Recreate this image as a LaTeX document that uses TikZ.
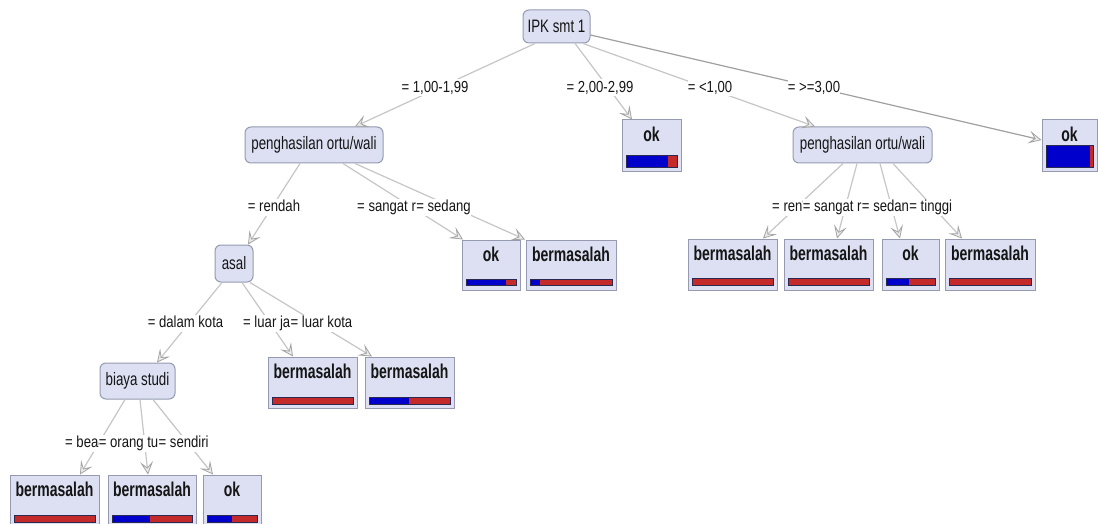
\documentclass[tikz,border=0pt]{standalone}
\usepackage{fontspec}
\setmainfont{Liberation Sans}
\usepackage{graphicx}
\usetikzlibrary{arrows.meta,calc}
\definecolor{nodefill}{HTML}{DCE0F2}
\definecolor{nodeline}{HTML}{959AB0}
\definecolor{edgecol}{HTML}{C6C6C6}
\definecolor{edgedark}{HTML}{A0A0A0}
\definecolor{arrowcol}{HTML}{A4A4A4}
\definecolor{barblue}{HTML}{0000CC}
\definecolor{barred}{HTML}{C42A2A}
\definecolor{barline}{HTML}{2A2A50}
\definecolor{txt}{HTML}{151515}
\newcommand\ntx[1]{\scalebox{0.74}[1]{\fontsize{18}{18}\selectfont #1}}
\newcommand\ltx[1]{\scalebox{0.7}[1]{\fontsize{20}{20}\selectfont\bfseries #1}}
\newcommand\etx[1]{\scalebox{0.82}[1]{\fontsize{16}{16}\selectfont #1}}
\tikzset{
  innernode/.style={draw=nodeline, fill=nodefill, line width=1pt, rounded corners=6pt, inner sep=0pt, text=txt},
  leafbox/.style={draw=nodeline, fill=nodefill, line width=1pt, inner sep=0pt},
  leaftext/.style={inner sep=0pt, text=txt},
  edge/.style={draw=edgecol, line width=1.2pt, -{Stealth[length=13pt,width=13pt,inset=6pt,color=arrowcol,fill=black!8,line width=0.8pt]}},
  elab/.style={fill=white, inner xsep=0pt, inner ysep=1pt, text height=12pt, text depth=3pt, text=txt},
  barlinestyle/.style={draw=barline, line width=0.6pt}
}
\newcommand\leafnode[9]{%
  \node[leafbox, minimum width={(#4-#2)*1pt}, minimum height={(#5-#3)*1pt}] (#1) at ({(#2+#4)/2},{(#3+#5)/2}) {};
  \node[leaftext] (#1t) at ({(#2+#4)/2},{#3+14}) {\ltx{#6}};
  \fill[barred] ({#2+4},#8) rectangle ({#4-4},#9);
  \fill[barblue] ({#2+4},#8) rectangle ({#2+4+(#4-#2-8)*#7},#9);
  \draw[barlinestyle] ({#2+4},#8) rectangle ({#4-4},#9);
}
\begin{document}
\begin{tikzpicture}[x=1pt,y=-1pt]
\useasboundingbox (0,0) rectangle (1098,524);
\fill[white] (0,0) rectangle (1098,524);

% internal nodes
\node[innernode, minimum width=67pt, minimum height=33pt] (ipk) at (556.5,26.5) {\ntx{IPK smt 1}};
\node[innernode, minimum width=138pt, minimum height=36pt] (p1) at (314,145) {\ntx{penghasilan ortu/wali}};
\node[innernode, minimum width=139pt, minimum height=36pt] (p2) at (862.5,145) {\ntx{penghasilan ortu/wali}};
\node[innernode, minimum width=38pt, minimum height=37pt] (asal) at (234,263.5) {\ntx{asal}};
\node[innernode, minimum width=75pt, minimum height=36pt] (biaya) at (137.5,381) {\ntx{biaya studi}};

% leaves
\leafnode{l1}{622}{120}{681}{172}{ok}{0.82}{155}{167}
\leafnode{l2}{1042}{120}{1097}{172}{ok}{0.94}{145}{167}
\leafnode{l3}{462}{240}{520}{290}{ok}{0.8}{279}{285}
\leafnode{l4}{526}{240}{616}{290}{bermasalah}{0.12}{279}{285}
\leafnode{r1}{688}{239}{777}{290}{bermasalah}{0}{278}{285}
\leafnode{r2}{784}{239}{873}{290}{bermasalah}{0}{278}{285}
\leafnode{r3}{882}{239}{939}{290}{ok}{0.47}{278}{285}
\leafnode{r4}{945}{239}{1035}{290}{bermasalah}{0}{278}{285}
\leafnode{m1}{268}{357}{357}{408}{bermasalah}{0}{397}{404}
\leafnode{m2}{365}{357}{454}{408}{bermasalah}{0.49}{397}{404}
\leafnode{b1}{10}{475}{99}{530}{bermasalah}{0}{515}{522}
\leafnode{b2}{108}{475}{196}{530}{bermasalah}{0.47}{515}{522}
\leafnode{b3}{203}{475}{261}{530}{ok}{0.5}{515}{522}

% connectors
\draw[edge] ($(ipk.south)+(-21.5,0)$) -- ($(p1.north)+(41,0)$);
\draw[edge] ($(ipk.south)+(18.5,0)$) -- ($(l1.north)+(-19.5,0)$);
\draw[edge] ($(ipk.south)+(26.5,0)$) -- ($(p2.north)+(-47.5,0)$);
\draw[edge, draw=edgedark] ($(ipk.east)+(0,8.5)$) -- ($(l2.west)+(0,-6)$);
\draw[edge] ($(p1.south)+(-14,0)$) -- ($(asal.north)+(14,0)$);
\draw[edge] ($(p1.south)+(29,0)$) -- ($(l3.north)+(-28,0)$);
\draw[edge] ($(p1.south)+(41,0)$) -- ($(l4.north)+(-46,0)$);
\draw[edge] ($(p2.south)+(-19.5,0)$) -- ($(r1.north)+(30.5,0)$);
\draw[edge] ($(p2.south)+(-5.5,0)$) -- ($(r2.north)+(8.5,0)$);
\draw[edge] ($(p2.south)+(17.5,0)$) -- ($(r3.north)+(-10.5,0)$);
\draw[edge] ($(p2.south)+(30.5,0)$) -- ($(r4.north)+(-28,0)$);
\draw[edge] ($(asal.south)+(-12,0)$) -- ($(biaya.north)+(19.5,0)$);
\draw[edge] ($(asal.south)+(8,0)$) -- ($(m1.north)+(-19.5,0)$);
\draw[edge] ($(asal.south)+(16,0)$) -- ($(m2.north)+(-37.5,0)$);
\draw[edge] ($(biaya.south)+(-12.5,0)$) -- ($(b1.north)+(25.5,0)$);
\draw[edge] ($(biaya.south)+(2.5,0)$) -- ($(b2.north)+(-4,0)$);
\draw[edge] ($(biaya.south)+(15.5,0)$) -- ($(b3.north)+(-19,0)$);

% edge labels
\node[elab] (e1) at (435,88) {\etx{= 1,00-1,99}};
\node[elab] (e2) at (600,88) {\etx{= 2,00-2,99}};
\node[elab] (e3) at (710,88) {\etx{= <1,00}};
\node[elab] (e4) at (814,88) {\etx{= >=3,00}};
\node[elab] (e5) at (274,207) {\etx{= rendah}};
\node[elab, anchor=west] (e6) at (357,207) {\etx{= sangat r}};
\node[elab, anchor=west] (e7) at (e6.east) {\etx{= sedang}};
\node[elab, anchor=west] (e8) at (772,207) {\etx{= ren}};
\node[elab, anchor=west] (e9) at (e8.east) {\etx{= sangat r}};
\node[elab, anchor=west] (e10) at (e9.east) {\etx{= sedan}};
\node[elab, anchor=west] (e11) at (e10.east) {\etx{= tinggi}};
\node[elab] (e12) at (185.5,323) {\etx{= dalam kota}};
\node[elab, anchor=west] (e13) at (243,323) {\etx{= luar ja}};
\node[elab, anchor=west] (e14) at (e13.east) {\etx{= luar kota}};
\node[elab, anchor=west] (e15) at (65,443) {\etx{= bea}};
\node[elab, anchor=west] (e16) at (e15.east) {\etx{= orang tu}};
\node[elab, anchor=west] (e17) at (e16.east) {\etx{= sendiri}};
\end{tikzpicture}
\end{document}
